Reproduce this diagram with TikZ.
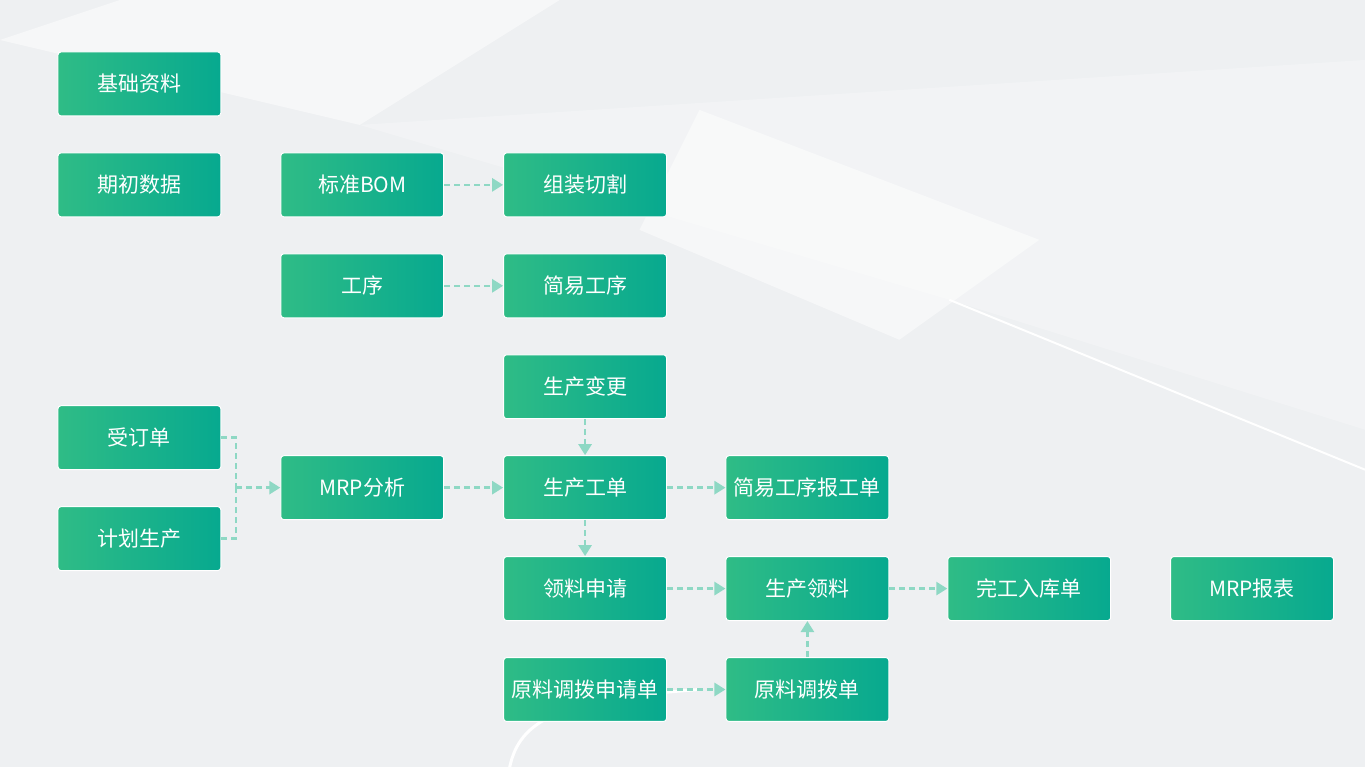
\documentclass[tikz,border=0pt]{standalone}
\usepackage{fontspec}
\setmainfont{Noto Sans CJK SC}
\usetikzlibrary{positioning,arrows.meta}
\definecolor{bg}{HTML}{EEF0F2}
\definecolor{gl}{HTML}{2FBC86}
\definecolor{gr}{HTML}{07A98F}
\definecolor{ln}{HTML}{8ED8C4}

\begin{document}
\begin{tikzpicture}[
    x=1pt, y=-1pt,
    box/.style={rectangle, rounded corners=3pt, minimum width=163pt, minimum height=64pt,
        left color=gl, right color=gr, draw=white, line width=1pt, text=white,
        font=\fontsize{21}{24}\selectfont},
    link/.style={dashed, dash pattern=on 6pt off 4pt, ln, line width=2.6pt, -{Triangle[length=11pt,width=13pt]}}
]
\fill[bg] (0,0) rectangle (1366,768);
% background sheets
\fill[white, opacity=0.5] (120,0) -- (560,0) -- (360,125) -- (0,40) -- cycle;
\fill[white, opacity=0.5] (700,110) -- (1040,240) -- (900,340) -- (640,230) -- cycle;
\fill[white, opacity=0.25] (360,125) -- (1366,60) -- (1366,430) -- (950,300) -- cycle;
\draw[white, line width=2pt] (950,300) -- (1366,470);
\draw[white, line width=3pt] (510,768) .. controls (520,720) and (560,700) .. (700,690);
\useasboundingbox (0,0) rectangle (1366,768);

% nodes
\node[box] (base) at (139.5,84) {基础资料};
\node[box] (init) at (139.5,185) {期初数据};
\node[box] (bom) at (362.5,185) {标准BOM};
\node[box] (cut) at (585.5,185) {组装切割};
\node[box] (proc) at (362.5,286) {工序};
\node[box] (sproc) at (585.5,286) {简易工序};
\node[box] (chg) at (585.5,387) {生产变更};
\node[box] (order) at (139.5,438) {受订单};
\node[box] (plan) at (139.5,539) {计划生产};
\node[box] (mrp) at (362.5,488) {MRP分析};
\node[box] (wo) at (585.5,488) {生产工单};
\node[box] (rep) at (808,488) {简易工序报工单};
\node[box] (req) at (585.5,589) {领料申请};
\node[box] (pick) at (808,589) {生产领料};
\node[box] (done) at (1030,589) {完工入库单};
\node[box] (mrprep) at (1253,589) {MRP报表};
\node[box] (treq) at (585.5,690) {原料调拨申请单};
\node[box] (tr) at (808,690) {原料调拨单};

% links
\coordinate (join) at (236,488);
\draw[link, -] (order.east) -| (join);
\draw[link, -] (plan.east) -| (join);
\draw[link] (join) -- (mrp.west);
\draw[link] (bom) -- (cut);
\draw[link] (proc) -- (sproc);
\draw[link] (mrp) -- (wo);
\draw[link] (chg) -- (wo);
\draw[link] (wo) -- (rep);
\draw[link] (wo) -- (req);
\draw[link] (req) -- (pick);
\draw[link] (pick) -- (done);
\draw[link] (treq) -- (tr);
\draw[link] (tr) -- (pick);
\end{tikzpicture}
\end{document}
